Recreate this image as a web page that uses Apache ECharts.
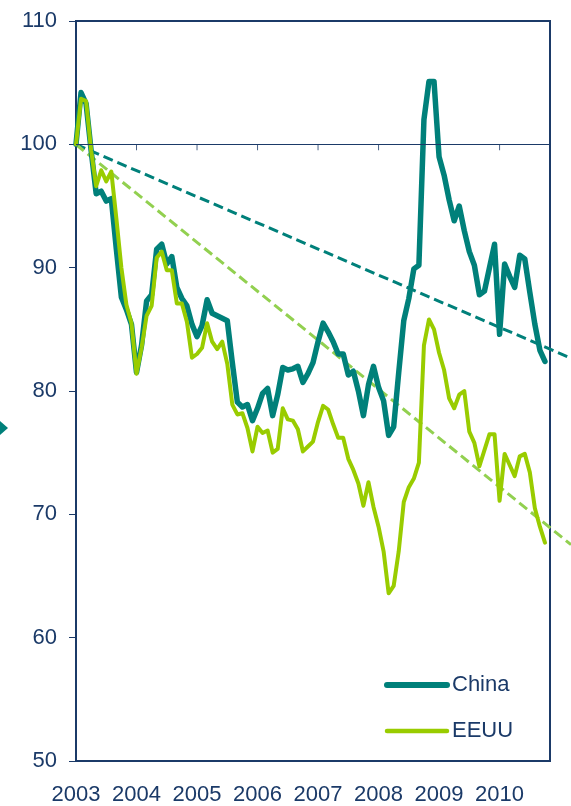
<!DOCTYPE html>
<html>
<head>
<meta charset="utf-8">
<script src="https://cdn.jsdelivr.net/npm/echarts@6/dist/echarts.min.js"></script>
<style>
  html, body { margin: 0; padding: 0; background: #ffffff; }
  #chart { width: 571px; height: 806px; }
</style>
</head>
<body>
<div id="chart"></div>
<script>
// Monthly index, January 2003 = 100 (months counted from Jan 2003)
const yearLabels = ['2003', '2004', '2005', '2006', '2007', '2008', '2009', '2010'];
const yearStartMonths = [0, 12, 24, 36, 48, 60, 72, 84];

const china = [
  100.0, 104.2, 103.3, 99.5, 96.0, 96.2, 95.4, 95.6, 91.5, 87.6, 86.6, 85.4,
  81.5, 83.7, 87.3, 87.8, 91.5, 91.9, 90.3, 90.9, 88.4, 87.5, 86.9, 85.4,
  84.4, 85.3, 87.4, 86.3, 86.1, 85.9, 85.7, 82.3, 79.1, 78.7, 78.9, 77.6,
  78.6, 79.8, 80.2, 78.0, 79.7, 81.9, 81.7, 81.8, 82.0, 80.7, 81.4, 82.3,
  84.0, 85.5, 84.8, 84.0, 83.0, 83.0, 81.3, 81.6, 80.0, 78.0, 80.5, 82.0,
  80.3, 79.2, 76.4, 77.1, 81.5, 85.7, 87.5, 89.9, 90.2, 102.0, 105.1, 105.1,
  99.0, 97.5, 95.5, 93.8, 95.0, 93.0, 91.3, 90.2, 87.8, 88.1, 90.0, 91.9,
  84.6, 90.3, 89.3, 88.4, 91.0, 90.7, 88.0, 85.4, 83.3, 82.4
];

const eeuu = [
  100.0, 103.7, 103.5, 99.5, 96.6, 97.9, 97.0, 97.8, 94.0, 90.0, 87.0, 85.5,
  81.4, 83.5, 86.1, 86.9, 90.8, 91.3, 89.8, 89.8, 87.1, 87.1, 85.6, 82.7,
  83.0, 83.5, 85.5, 84.0, 83.4, 84.0, 82.2, 78.9, 78.1, 78.2, 77.0, 75.1,
  77.1, 76.6, 76.8, 75.0, 75.3, 78.6, 77.7, 77.6, 76.9, 75.1, 75.5, 75.9,
  77.5, 78.8, 78.5, 77.3, 76.2, 76.2, 74.5, 73.6, 72.5, 70.7, 72.6, 70.6,
  69.0, 67.0, 63.6, 64.2, 67.0, 71.0, 72.2, 72.9, 74.2, 83.7, 85.8, 85.0,
  83.1, 81.7, 79.4, 78.6, 79.7, 80.0, 76.7, 75.8, 73.9, 75.2, 76.5, 76.5,
  71.1, 74.9, 74.0, 73.1, 74.7, 74.9, 73.4, 70.5, 69.0, 67.7
];

// Linear trend lines (start and end of each); they run past the plot box
const trendMonths = [0, 98.2];
const chinaTrend = [100, 82.7];
const eeuuTrend = [100, 67.6];

const baseLevel = 100;

const NAVY = '#1b3a68';
const TEAL = '#00807a';
const LIME = '#99cc00';
const LIME_DASH = '#92d050';
const FONT = '"Liberation Sans", Arial, sans-serif';

const toPairs = (vals) => vals.map((v, i) => [i, v]);
const trendPairs = (vals) => vals.map((v, i) => [trendMonths[i], v]);

const chart = echarts.init(document.getElementById('chart'), null, { renderer: 'canvas' });

chart.setOption({
  animation: false,
  backgroundColor: '#ffffff',
  grid: [
    {
      left: 76, right: 21, top: 21, bottom: 44,
      show: true, borderColor: NAVY, borderWidth: 2, backgroundColor: 'transparent'
    },
    // same scale, wider box: lets the trend lines continue to the page edge
    { left: 76, right: 0, top: 21, bottom: 44, show: false }
  ],
  xAxis: [
    {
      type: 'value',
      gridIndex: 0,
      min: 0, max: 94, interval: 12,
      splitLine: { show: false },
      axisLine: { show: true, lineStyle: { color: NAVY, width: 2 } },
      axisTick: { show: false },
      axisLabel: {
        color: NAVY, fontFamily: FONT, fontSize: 22, margin: 23,
        showMaxLabel: false,
        formatter: (v) => (v % 12 === 0 && yearLabels[v / 12]) ? yearLabels[v / 12] : ''
      }
    },
    { type: 'value', gridIndex: 1, min: 0, max: trendMonths[1], show: false }
  ],
  yAxis: [
    {
      type: 'value',
      gridIndex: 0,
      min: 50, max: 110, interval: 10,
      splitLine: { show: false },
      axisLine: { show: true, lineStyle: { color: NAVY, width: 2 } },
      axisTick: { show: true, length: 7, lineStyle: { color: NAVY, width: 1 } },
      axisLabel: { color: NAVY, fontFamily: FONT, fontSize: 22, margin: 19 }
    },
    { type: 'value', gridIndex: 1, min: 50, max: 110, show: false }
  ],
  legend: {
    data: [
      { name: 'China', lineStyle: { width: 6, cap: 'round' } },
      { name: 'EEUU', lineStyle: { width: 4.5, cap: 'round' } }
    ],
    orient: 'vertical',
    left: 379, top: 669,
    itemWidth: 60, itemHeight: 22, itemGap: 24,
    itemStyle: { opacity: 0 },
    textStyle: { color: NAVY, fontFamily: FONT, fontSize: 22 }
  },
  graphic: [{
    type: 'polygon',
    shape: { points: [[0, 421], [8, 428], [0, 435]] },
    style: { fill: TEAL }
  }],
  series: [
    {
      // base level line with year ticks
      name: 'base',
      type: 'scatter',
      silent: true,
      z: 1,
      symbol: 'rect',
      symbolSize: [1, 6],
      symbolOffset: [0, 3],
      itemStyle: { color: NAVY },
      data: yearStartMonths.slice(1).map((m) => [m, baseLevel]),
      markLine: {
        silent: true,
        symbol: 'none',
        label: { show: false },
        lineStyle: { color: NAVY, width: 1, type: 'solid' },
        data: [{ yAxis: baseLevel }]
      }
    },
    {
      name: 'Tendencia China',
      type: 'line',
      xAxisIndex: 1, yAxisIndex: 1,
      z: 2,
      silent: true,
      symbol: 'none',
      lineStyle: { color: TEAL, width: 3, type: [10, 5] },
      data: trendPairs(chinaTrend)
    },
    {
      name: 'Tendencia EEUU',
      type: 'line',
      xAxisIndex: 1, yAxisIndex: 1,
      z: 2,
      silent: true,
      symbol: 'none',
      lineStyle: { color: LIME_DASH, width: 3, type: [10, 5] },
      data: trendPairs(eeuuTrend)
    },
    {
      name: 'China',
      type: 'line',
      z: 3,
      symbol: 'none',
      itemStyle: { color: TEAL },
      lineStyle: { color: TEAL, width: 5.5, cap: 'round', join: 'round' },
      data: toPairs(china)
    },
    {
      name: 'EEUU',
      type: 'line',
      z: 4,
      symbol: 'none',
      itemStyle: { color: LIME },
      lineStyle: { color: LIME, width: 4, cap: 'round', join: 'round' },
      data: toPairs(eeuu)
    }
  ]
});
</script>
</body>
</html>
